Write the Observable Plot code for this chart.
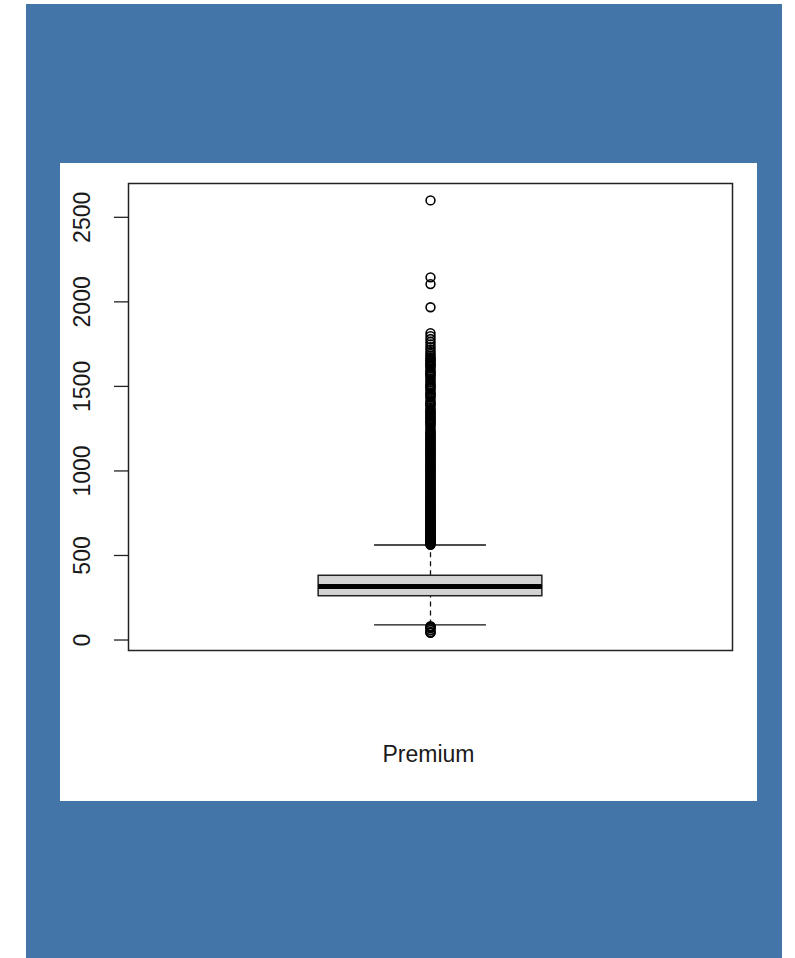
<!DOCTYPE html>
<html>
<head>
<meta charset="utf-8">
<script src="https://cdn.jsdelivr.net/npm/d3@7"></script>
<script src="https://cdn.jsdelivr.net/npm/@observablehq/plot@0.6"></script>
<style>
  html, body { margin: 0; padding: 0; background: #ffffff; }
  body { width: 795px; height: 958px; position: relative; overflow: hidden; }
  #backdrop { position: absolute; left: 26px; top: 4px; width: 756px; height: 954px; background: #4375a8; }
  #panel { position: absolute; left: 60px; top: 163px; width: 697px; height: 638px; background: #ffffff; }
  #panel svg { display: block; }
</style>
</head>
<body>
<div id="backdrop"></div>
<div id="panel"></div>
<script>
// Box-and-whisker summary of the Premium variable
const category = "Premium";
const q1 = 259;
const median = 317;
const q3 = 380;
const whiskerLow = 89;
const whiskerHigh = 562;

// Individual points beyond the whiskers
const outliersHigh = [
  2600, 2145, 2105, 1968,
  1815, 1797, 1780, 1764, 1748, 1732, 1718, 1704, 1692, 1682, 1672, 1664, 1657,
  1650, 1643, 1636, 1629, 1622, 1617, 1605, 1593, 1586, 1579, 1572, 1565, 1558,
  1546, 1535, 1524, 1513, 1506, 1499, 1492, 1486, 1475, 1463, 1456, 1449, 1442,
  1434, 1420, 1408, 1401, 1394, 1387, 1375, 1363, 1356, 1349, 1342, 1335, 1328,
  1321, 1314, 1307, 1300, 1293, 1286, 1279, 1272, 1262, 1250, 1238, 1231,
  1224, 1218, 1211, 1204, 1198, 1191, 1185, 1178, 1172, 1165, 1159, 1152, 1146,
  1139, 1133, 1126, 1120, 1113, 1107, 1100, 1094, 1088, 1081, 1075, 1068, 1062,
  1056, 1049, 1043, 1037, 1030, 1024, 1018, 1011, 1005, 999, 993, 986, 980,
  974, 968, 962, 955, 949, 943, 937, 931, 925, 919, 913, 907, 901, 895, 889,
  883, 877, 871, 866, 860, 854, 848, 843, 837, 831, 826, 820, 815, 809, 804,
  798, 793, 787, 782, 777, 771, 766, 761, 756, 750, 745, 740, 735, 730, 725,
  720, 715, 710, 705, 700, 695, 691, 686, 681, 677, 672, 668, 663, 659, 654,
  650, 646, 641, 637, 633, 629, 625, 621, 617, 613, 609, 605, 601, 597, 594,
  590, 586, 583, 579, 576, 572, 569, 566, 563
];
const outliersLow = [82, 78, 74, 70, 59, 48, 45, 42];

const yTicks = [0, 500, 1000, 1500, 2000, 2500];

const outliers = [...outliersHigh, ...outliersLow].map(v => ({x: 1, y: v}));
const boxRow = [{x1: 0.8, x2: 1.2, y1: q1, y2: q3}];

const font = "'Liberation Sans', Arial, Helvetica, sans-serif";

const chart = Plot.plot({
  width: 697,
  height: 638,
  marginLeft: 68,
  marginRight: 25,
  marginTop: 20,
  marginBottom: 151,
  style: {fontFamily: font, fontSize: "23px", color: "#1a1a1a", background: "#ffffff"},
  x: {domain: [0.46, 1.54], axis: null},
  y: {domain: [-62, 2700], axis: null},
  marks: [
    Plot.frame({stroke: "#222", strokeWidth: 1.5}),
    Plot.axisY({
      ticks: yTicks,
      tickFormat: d => String(d),
      tickSize: 14,
      tickRotate: -90,
      tickPadding: 25,
      fontSize: 23,
      stroke: "#222",
      strokeWidth: 1.3,
      label: null,
      anchor: "left"
    }),
    // dashed stems from box to whisker caps
    Plot.ruleX([{y1: q3, y2: whiskerHigh}, {y1: whiskerLow, y2: q1}], {
      x: () => 1, y1: "y1", y2: "y2", stroke: "#111", strokeWidth: 1.3, strokeDasharray: "5,4"
    }),
    // whisker caps
    Plot.ruleY([whiskerLow, whiskerHigh], {x1: 0.9, x2: 1.1, stroke: "#111", strokeWidth: 1.3}),
    // interquartile box
    Plot.rect(boxRow, {x1: "x1", x2: "x2", y1: "y1", y2: "y2", fill: "#d3d3d3", stroke: "#222", strokeWidth: 1.5}),
    // median
    Plot.ruleY([median], {x1: 0.8, x2: 1.2, stroke: "#000", strokeWidth: 5}),
    // outliers
    Plot.dot(outliers, {x: "x", y: "y", r: 4.4, stroke: "#000", strokeWidth: 1.6, fill: "none"}),
    // category label
    Plot.text([category], {
      x: () => 1, frameAnchor: "bottom", dy: 104, dx: -2, text: d => d,
      fontSize: 23, fill: "#1a1a1a", lineAnchor: "middle", textAnchor: "middle"
    })
  ]
});

document.getElementById("panel").appendChild(chart);
</script>
</body>
</html>
